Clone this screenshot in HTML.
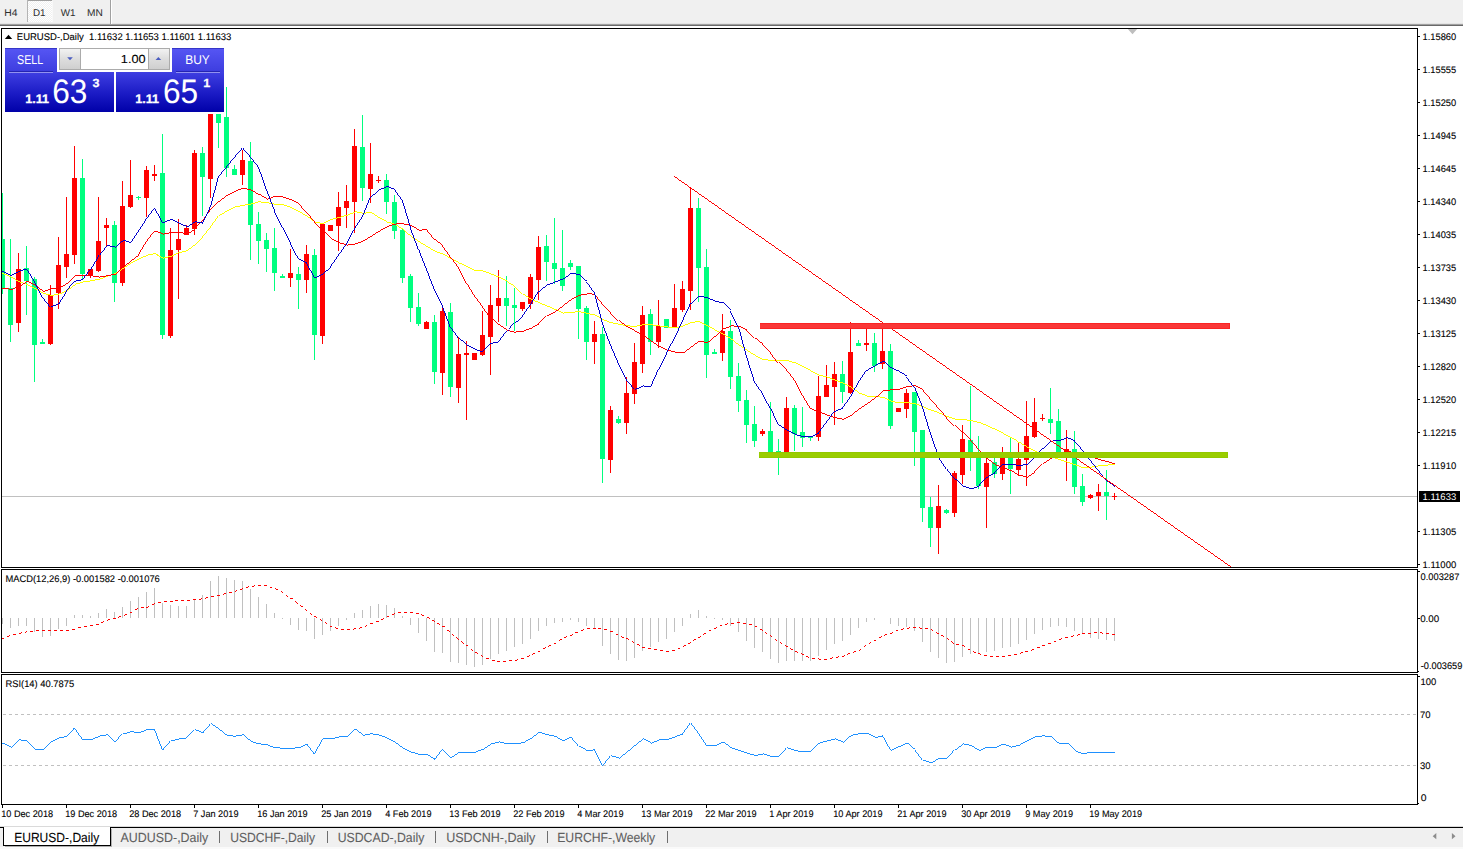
<!DOCTYPE html>
<html><head><meta charset="utf-8"><title>EURUSD-,Daily</title>
<style>
html,body{margin:0;padding:0;background:#fff}
body{width:1463px;height:849px;position:relative;overflow:hidden;font-family:"Liberation Sans",sans-serif}
svg{position:absolute;left:0;top:0}
text{font-family:"Liberation Sans",sans-serif;text-rendering:geometricPrecision}
</style></head><body>
<svg width="1463" height="849" viewBox="0 0 1463 849">
<defs>
<linearGradient id="gb" x1="0" y1="0" x2="0" y2="1"><stop offset="0" stop-color="#3F3FE2"/><stop offset="0.55" stop-color="#1A1AC4"/><stop offset="1" stop-color="#0000A8"/></linearGradient>
<linearGradient id="gs" x1="0" y1="0" x2="0" y2="1"><stop offset="0" stop-color="#5656F4"/><stop offset="1" stop-color="#3C3CDE"/></linearGradient>
<linearGradient id="gsp" x1="0" y1="0" x2="0" y2="1"><stop offset="0" stop-color="#F2F2F2"/><stop offset="0.5" stop-color="#DDDDDD"/><stop offset="1" stop-color="#CFCFCF"/></linearGradient>
<pattern id="chk" width="2" height="2" patternUnits="userSpaceOnUse"><rect width="2" height="2" fill="#F0F0F0"/><rect width="1" height="1" fill="#FFFFFF"/><rect x="1" y="1" width="1" height="1" fill="#FFFFFF"/></pattern>
<clipPath id="cm"><rect x="2" y="29" width="1415" height="538"/></clipPath>
</defs>

<g shape-rendering="crispEdges">
<rect x="0" y="0" width="1463" height="24" fill="#F0F0F0"/>
<rect x="0" y="23" width="1463" height="1" fill="#E4E4E4"/>
<rect x="0" y="24" width="1463" height="1" fill="#A0A0A0"/>
<rect x="0" y="25" width="1463" height="1" fill="#696969"/>
<rect x="0" y="26" width="1463" height="2" fill="#FFFFFF"/>
<rect x="27" y="0" width="25" height="22" fill="url(#chk)"/>
<rect x="27" y="0" width="25" height="1" fill="#A0A0A0"/>
<rect x="27" y="0" width="1" height="22" fill="#B4B4B4"/>
<rect x="52" y="1" width="1" height="21" fill="#F8F8F8"/>
<rect x="110" y="0" width="1" height="24" fill="#A0A0A0"/>
<rect x="111" y="0" width="1" height="24" fill="#FFFFFF"/>
<rect x="1" y="28" width="1417" height="1" fill="#000"/>
<rect x="1" y="567" width="1417" height="1" fill="#000"/>
<rect x="1" y="28" width="1" height="540" fill="#000"/>
<rect x="1417" y="28" width="1" height="540" fill="#000"/>
<rect x="1" y="569" width="1417" height="1" fill="#000"/>
<rect x="1" y="672" width="1417" height="1" fill="#000"/>
<rect x="1" y="569" width="1" height="104" fill="#000"/>
<rect x="1417" y="569" width="1" height="104" fill="#000"/>
<rect x="1" y="674" width="1417" height="1" fill="#000"/>
<rect x="1" y="804" width="1417" height="1" fill="#000"/>
<rect x="1" y="674" width="1" height="131" fill="#000"/>
<rect x="1417" y="674" width="1" height="131" fill="#000"/>
<rect x="1418" y="36" width="2" height="1" fill="#000"/>
<rect x="1418" y="69" width="2" height="1" fill="#000"/>
<rect x="1418" y="102" width="2" height="1" fill="#000"/>
<rect x="1418" y="135" width="2" height="1" fill="#000"/>
<rect x="1418" y="168" width="2" height="1" fill="#000"/>
<rect x="1418" y="201" width="2" height="1" fill="#000"/>
<rect x="1418" y="234" width="2" height="1" fill="#000"/>
<rect x="1418" y="267" width="2" height="1" fill="#000"/>
<rect x="1418" y="300" width="2" height="1" fill="#000"/>
<rect x="1418" y="333" width="2" height="1" fill="#000"/>
<rect x="1418" y="366" width="2" height="1" fill="#000"/>
<rect x="1418" y="399" width="2" height="1" fill="#000"/>
<rect x="1418" y="432" width="2" height="1" fill="#000"/>
<rect x="1418" y="465" width="2" height="1" fill="#000"/>
<rect x="1418" y="531" width="2" height="1" fill="#000"/>
<rect x="1418" y="564" width="2" height="1" fill="#000"/>
<rect x="1418" y="571" width="2" height="1" fill="#000"/>
<rect x="1418" y="618" width="2" height="1" fill="#000"/>
<rect x="1418" y="676" width="2" height="1" fill="#000"/>
<rect x="1418" y="671" width="1" height="1" fill="#000"/>
<rect x="1418" y="803" width="1" height="1" fill="#000"/>
<rect x="2" y="805" width="1" height="3" fill="#000"/>
<rect x="66" y="805" width="1" height="3" fill="#000"/>
<rect x="130" y="805" width="1" height="3" fill="#000"/>
<rect x="194" y="805" width="1" height="3" fill="#000"/>
<rect x="258" y="805" width="1" height="3" fill="#000"/>
<rect x="322" y="805" width="1" height="3" fill="#000"/>
<rect x="386" y="805" width="1" height="3" fill="#000"/>
<rect x="450" y="805" width="1" height="3" fill="#000"/>
<rect x="514" y="805" width="1" height="3" fill="#000"/>
<rect x="578" y="805" width="1" height="3" fill="#000"/>
<rect x="642" y="805" width="1" height="3" fill="#000"/>
<rect x="706" y="805" width="1" height="3" fill="#000"/>
<rect x="770" y="805" width="1" height="3" fill="#000"/>
<rect x="834" y="805" width="1" height="3" fill="#000"/>
<rect x="898" y="805" width="1" height="3" fill="#000"/>
<rect x="962" y="805" width="1" height="3" fill="#000"/>
<rect x="1026" y="805" width="1" height="3" fill="#000"/>
<rect x="1090" y="805" width="1" height="3" fill="#000"/>
<rect x="0" y="826" width="1463" height="1" fill="#DADADA"/>
<rect x="0" y="827" width="1463" height="20" fill="#F0F0F0"/>
<rect x="0" y="847" width="1463" height="2" fill="#FAFAFA"/>
<rect x="0" y="827" width="1463" height="1" fill="#000"/>
<rect x="4" y="827" width="107" height="18" fill="#FFFFFF"/>
<rect x="3" y="827" width="1" height="19" fill="#000"/>
<rect x="3" y="845" width="108" height="1" fill="#000"/>
<rect x="110" y="827" width="1" height="19" fill="#000"/>
<rect x="111" y="829" width="1" height="18" fill="#B0B0B0"/>
<rect x="5" y="846" width="107" height="1" fill="#B0B0B0"/>
<rect x="219" y="831" width="1" height="12" fill="#6E6E6E"/>
<rect x="327" y="831" width="1" height="12" fill="#6E6E6E"/>
<rect x="435" y="831" width="1" height="12" fill="#6E6E6E"/>
<rect x="547" y="831" width="1" height="12" fill="#6E6E6E"/>
<rect x="667" y="831" width="1" height="12" fill="#6E6E6E"/>
</g>
<polygon points="1436.3,833.1 1436.3,839.3 1432.7,836.2" fill="#8C8C8C"/>
<polygon points="1451.9,833.1 1451.9,839.3 1455.5,836.2" fill="#8C8C8C"/>
<polygon points="1127.8,29 1137.2,29 1132.5,34.2" fill="#BEBEBE"/>
<g clip-path="url(#cm)">
<g shape-rendering="crispEdges">
<rect x="2" y="496" width="1415" height="1" fill="#C0C0C0"/>
<rect x="2" y="193" width="1" height="101" fill="#00FF7F"/>
<rect x="0" y="239" width="5" height="49" fill="#00FF7F"/>
<rect x="10" y="239" width="1" height="103" fill="#00FF7F"/>
<rect x="8" y="288" width="5" height="37" fill="#00FF7F"/>
<rect x="18" y="253" width="1" height="79" fill="#FF0000"/>
<rect x="16" y="269" width="5" height="54" fill="#FF0000"/>
<rect x="26" y="246" width="1" height="69" fill="#00FF7F"/>
<rect x="24" y="268" width="5" height="13" fill="#00FF7F"/>
<rect x="34" y="277" width="1" height="105" fill="#00FF7F"/>
<rect x="32" y="279" width="5" height="66" fill="#00FF7F"/>
<rect x="50" y="285" width="1" height="60" fill="#FF0000"/>
<rect x="48" y="295" width="5" height="49" fill="#FF0000"/>
<rect x="58" y="237" width="1" height="72" fill="#FF0000"/>
<rect x="56" y="265" width="5" height="28" fill="#FF0000"/>
<rect x="66" y="197" width="1" height="81" fill="#FF0000"/>
<rect x="64" y="254" width="5" height="13" fill="#FF0000"/>
<rect x="74" y="146" width="1" height="118" fill="#FF0000"/>
<rect x="72" y="178" width="5" height="77" fill="#FF0000"/>
<rect x="82" y="159" width="1" height="120" fill="#00FF7F"/>
<rect x="80" y="178" width="5" height="96" fill="#00FF7F"/>
<rect x="90" y="269" width="1" height="9" fill="#FF0000"/>
<rect x="88" y="269" width="5" height="6" fill="#FF0000"/>
<rect x="98" y="197" width="1" height="75" fill="#FF0000"/>
<rect x="96" y="241" width="5" height="30" fill="#FF0000"/>
<rect x="106" y="218" width="1" height="28" fill="#FF0000"/>
<rect x="104" y="225" width="5" height="3" fill="#FF0000"/>
<rect x="114" y="221" width="1" height="81" fill="#00FF7F"/>
<rect x="112" y="225" width="5" height="58" fill="#00FF7F"/>
<rect x="122" y="181" width="1" height="105" fill="#FF0000"/>
<rect x="120" y="206" width="5" height="77" fill="#FF0000"/>
<rect x="130" y="160" width="1" height="48" fill="#FF0000"/>
<rect x="128" y="195" width="5" height="12" fill="#FF0000"/>
<rect x="146" y="166" width="1" height="51" fill="#FF0000"/>
<rect x="144" y="170" width="5" height="28" fill="#FF0000"/>
<rect x="162" y="134" width="1" height="205" fill="#00FF7F"/>
<rect x="160" y="173" width="5" height="162" fill="#00FF7F"/>
<rect x="170" y="228" width="1" height="110" fill="#FF0000"/>
<rect x="168" y="250" width="5" height="86" fill="#FF0000"/>
<rect x="178" y="219" width="1" height="80" fill="#FF0000"/>
<rect x="176" y="239" width="5" height="11" fill="#FF0000"/>
<rect x="186" y="225" width="1" height="10" fill="#FF0000"/>
<rect x="184" y="228" width="5" height="7" fill="#FF0000"/>
<rect x="194" y="150" width="1" height="85" fill="#FF0000"/>
<rect x="192" y="153" width="5" height="76" fill="#FF0000"/>
<rect x="202" y="147" width="1" height="69" fill="#00FF7F"/>
<rect x="200" y="153" width="5" height="24" fill="#00FF7F"/>
<rect x="210" y="114" width="1" height="84" fill="#FF0000"/>
<rect x="208" y="114" width="5" height="65" fill="#FF0000"/>
<rect x="218" y="114" width="1" height="34" fill="#00FF7F"/>
<rect x="216" y="114" width="5" height="9" fill="#00FF7F"/>
<rect x="226" y="87" width="1" height="90" fill="#00FF7F"/>
<rect x="224" y="117" width="5" height="51" fill="#00FF7F"/>
<rect x="234" y="165" width="1" height="10" fill="#00FF7F"/>
<rect x="232" y="169" width="5" height="6" fill="#00FF7F"/>
<rect x="242" y="150" width="1" height="35" fill="#FF0000"/>
<rect x="240" y="160" width="5" height="15" fill="#FF0000"/>
<rect x="250" y="142" width="1" height="118" fill="#00FF7F"/>
<rect x="248" y="161" width="5" height="64" fill="#00FF7F"/>
<rect x="258" y="212" width="1" height="52" fill="#00FF7F"/>
<rect x="256" y="224" width="5" height="17" fill="#00FF7F"/>
<rect x="266" y="233" width="1" height="39" fill="#00FF7F"/>
<rect x="264" y="240" width="5" height="9" fill="#00FF7F"/>
<rect x="274" y="228" width="1" height="63" fill="#00FF7F"/>
<rect x="272" y="248" width="5" height="25" fill="#00FF7F"/>
<rect x="290" y="249" width="1" height="38" fill="#FF0000"/>
<rect x="288" y="273" width="5" height="5" fill="#FF0000"/>
<rect x="298" y="267" width="1" height="42" fill="#00FF7F"/>
<rect x="296" y="274" width="5" height="6" fill="#00FF7F"/>
<rect x="306" y="245" width="1" height="48" fill="#FF0000"/>
<rect x="304" y="254" width="5" height="26" fill="#FF0000"/>
<rect x="314" y="249" width="1" height="111" fill="#00FF7F"/>
<rect x="312" y="255" width="5" height="80" fill="#00FF7F"/>
<rect x="322" y="224" width="1" height="120" fill="#FF0000"/>
<rect x="320" y="224" width="5" height="112" fill="#FF0000"/>
<rect x="330" y="225" width="1" height="6" fill="#FF0000"/>
<rect x="328" y="225" width="5" height="6" fill="#FF0000"/>
<rect x="338" y="192" width="1" height="59" fill="#FF0000"/>
<rect x="336" y="207" width="5" height="19" fill="#FF0000"/>
<rect x="346" y="185" width="1" height="43" fill="#FF0000"/>
<rect x="344" y="201" width="5" height="7" fill="#FF0000"/>
<rect x="354" y="129" width="1" height="104" fill="#FF0000"/>
<rect x="352" y="146" width="5" height="56" fill="#FF0000"/>
<rect x="362" y="115" width="1" height="86" fill="#00FF7F"/>
<rect x="360" y="147" width="5" height="41" fill="#00FF7F"/>
<rect x="370" y="143" width="1" height="60" fill="#FF0000"/>
<rect x="368" y="174" width="5" height="15" fill="#FF0000"/>
<rect x="386" y="174" width="1" height="40" fill="#00FF7F"/>
<rect x="384" y="180" width="5" height="22" fill="#00FF7F"/>
<rect x="394" y="195" width="1" height="44" fill="#00FF7F"/>
<rect x="392" y="202" width="5" height="29" fill="#00FF7F"/>
<rect x="402" y="229" width="1" height="54" fill="#00FF7F"/>
<rect x="400" y="230" width="5" height="48" fill="#00FF7F"/>
<rect x="410" y="274" width="1" height="48" fill="#00FF7F"/>
<rect x="408" y="276" width="5" height="32" fill="#00FF7F"/>
<rect x="418" y="293" width="1" height="33" fill="#00FF7F"/>
<rect x="416" y="307" width="5" height="17" fill="#00FF7F"/>
<rect x="426" y="321" width="1" height="8" fill="#FF0000"/>
<rect x="424" y="322" width="5" height="7" fill="#FF0000"/>
<rect x="434" y="315" width="1" height="69" fill="#00FF7F"/>
<rect x="432" y="322" width="5" height="50" fill="#00FF7F"/>
<rect x="442" y="305" width="1" height="90" fill="#FF0000"/>
<rect x="440" y="311" width="5" height="62" fill="#FF0000"/>
<rect x="450" y="303" width="1" height="94" fill="#00FF7F"/>
<rect x="448" y="312" width="5" height="75" fill="#00FF7F"/>
<rect x="458" y="337" width="1" height="66" fill="#FF0000"/>
<rect x="456" y="354" width="5" height="34" fill="#FF0000"/>
<rect x="474" y="353" width="1" height="7" fill="#FF0000"/>
<rect x="472" y="353" width="5" height="7" fill="#FF0000"/>
<rect x="482" y="311" width="1" height="45" fill="#FF0000"/>
<rect x="480" y="335" width="5" height="20" fill="#FF0000"/>
<rect x="490" y="285" width="1" height="90" fill="#FF0000"/>
<rect x="488" y="305" width="5" height="32" fill="#FF0000"/>
<rect x="498" y="270" width="1" height="52" fill="#FF0000"/>
<rect x="496" y="298" width="5" height="8" fill="#FF0000"/>
<rect x="506" y="276" width="1" height="50" fill="#00FF7F"/>
<rect x="504" y="298" width="5" height="8" fill="#00FF7F"/>
<rect x="514" y="288" width="1" height="43" fill="#00FF7F"/>
<rect x="512" y="305" width="5" height="3" fill="#00FF7F"/>
<rect x="522" y="302" width="1" height="9" fill="#FF0000"/>
<rect x="520" y="302" width="5" height="7" fill="#FF0000"/>
<rect x="530" y="274" width="1" height="35" fill="#FF0000"/>
<rect x="528" y="277" width="5" height="27" fill="#FF0000"/>
<rect x="538" y="236" width="1" height="64" fill="#FF0000"/>
<rect x="536" y="247" width="5" height="33" fill="#FF0000"/>
<rect x="546" y="235" width="1" height="46" fill="#00FF7F"/>
<rect x="544" y="246" width="5" height="16" fill="#00FF7F"/>
<rect x="554" y="218" width="1" height="66" fill="#00FF7F"/>
<rect x="552" y="263" width="5" height="6" fill="#00FF7F"/>
<rect x="562" y="230" width="1" height="61" fill="#00FF7F"/>
<rect x="560" y="268" width="5" height="18" fill="#00FF7F"/>
<rect x="570" y="260" width="1" height="10" fill="#00FF7F"/>
<rect x="568" y="263" width="5" height="4" fill="#00FF7F"/>
<rect x="578" y="266" width="1" height="73" fill="#00FF7F"/>
<rect x="576" y="266" width="5" height="43" fill="#00FF7F"/>
<rect x="586" y="306" width="1" height="54" fill="#00FF7F"/>
<rect x="584" y="308" width="5" height="34" fill="#00FF7F"/>
<rect x="594" y="321" width="1" height="43" fill="#FF0000"/>
<rect x="592" y="334" width="5" height="8" fill="#FF0000"/>
<rect x="602" y="327" width="1" height="156" fill="#00FF7F"/>
<rect x="600" y="334" width="5" height="125" fill="#00FF7F"/>
<rect x="610" y="406" width="1" height="67" fill="#FF0000"/>
<rect x="608" y="410" width="5" height="50" fill="#FF0000"/>
<rect x="618" y="416" width="1" height="8" fill="#00FF7F"/>
<rect x="616" y="419" width="5" height="4" fill="#00FF7F"/>
<rect x="626" y="377" width="1" height="57" fill="#FF0000"/>
<rect x="624" y="393" width="5" height="30" fill="#FF0000"/>
<rect x="634" y="343" width="1" height="61" fill="#FF0000"/>
<rect x="632" y="362" width="5" height="32" fill="#FF0000"/>
<rect x="642" y="306" width="1" height="67" fill="#FF0000"/>
<rect x="640" y="315" width="5" height="49" fill="#FF0000"/>
<rect x="650" y="309" width="1" height="46" fill="#00FF7F"/>
<rect x="648" y="314" width="5" height="28" fill="#00FF7F"/>
<rect x="658" y="300" width="1" height="48" fill="#FF0000"/>
<rect x="656" y="326" width="5" height="16" fill="#FF0000"/>
<rect x="666" y="319" width="1" height="9" fill="#00FF7F"/>
<rect x="664" y="319" width="5" height="9" fill="#00FF7F"/>
<rect x="674" y="284" width="1" height="43" fill="#FF0000"/>
<rect x="672" y="308" width="5" height="19" fill="#FF0000"/>
<rect x="682" y="281" width="1" height="31" fill="#FF0000"/>
<rect x="680" y="289" width="5" height="21" fill="#FF0000"/>
<rect x="690" y="188" width="1" height="122" fill="#FF0000"/>
<rect x="688" y="208" width="5" height="83" fill="#FF0000"/>
<rect x="698" y="198" width="1" height="104" fill="#00FF7F"/>
<rect x="696" y="208" width="5" height="60" fill="#00FF7F"/>
<rect x="706" y="249" width="1" height="129" fill="#00FF7F"/>
<rect x="704" y="267" width="5" height="88" fill="#00FF7F"/>
<rect x="722" y="314" width="1" height="47" fill="#FF0000"/>
<rect x="720" y="331" width="5" height="22" fill="#FF0000"/>
<rect x="730" y="320" width="1" height="69" fill="#00FF7F"/>
<rect x="728" y="331" width="5" height="46" fill="#00FF7F"/>
<rect x="738" y="363" width="1" height="49" fill="#00FF7F"/>
<rect x="736" y="376" width="5" height="25" fill="#00FF7F"/>
<rect x="746" y="390" width="1" height="53" fill="#00FF7F"/>
<rect x="744" y="400" width="5" height="25" fill="#00FF7F"/>
<rect x="754" y="406" width="1" height="41" fill="#00FF7F"/>
<rect x="752" y="424" width="5" height="17" fill="#00FF7F"/>
<rect x="762" y="429" width="1" height="7" fill="#FF0000"/>
<rect x="760" y="431" width="5" height="3" fill="#FF0000"/>
<rect x="770" y="402" width="1" height="53" fill="#00FF7F"/>
<rect x="768" y="431" width="5" height="24" fill="#00FF7F"/>
<rect x="778" y="439" width="1" height="36" fill="#00FF7F"/>
<rect x="776" y="451" width="5" height="4" fill="#00FF7F"/>
<rect x="786" y="397" width="1" height="58" fill="#FF0000"/>
<rect x="784" y="408" width="5" height="47" fill="#FF0000"/>
<rect x="794" y="405" width="1" height="46" fill="#00FF7F"/>
<rect x="792" y="408" width="5" height="26" fill="#00FF7F"/>
<rect x="802" y="407" width="1" height="40" fill="#00FF7F"/>
<rect x="800" y="432" width="5" height="6" fill="#00FF7F"/>
<rect x="810" y="436" width="1" height="5" fill="#00FF7F"/>
<rect x="808" y="436" width="5" height="2" fill="#00FF7F"/>
<rect x="818" y="376" width="1" height="65" fill="#FF0000"/>
<rect x="816" y="396" width="5" height="41" fill="#FF0000"/>
<rect x="826" y="365" width="1" height="32" fill="#FF0000"/>
<rect x="824" y="385" width="5" height="12" fill="#FF0000"/>
<rect x="834" y="362" width="1" height="63" fill="#FF0000"/>
<rect x="832" y="374" width="5" height="13" fill="#FF0000"/>
<rect x="842" y="361" width="1" height="42" fill="#00FF7F"/>
<rect x="840" y="374" width="5" height="18" fill="#00FF7F"/>
<rect x="850" y="322" width="1" height="72" fill="#FF0000"/>
<rect x="848" y="352" width="5" height="41" fill="#FF0000"/>
<rect x="858" y="340" width="1" height="6" fill="#00FF7F"/>
<rect x="856" y="343" width="5" height="3" fill="#00FF7F"/>
<rect x="874" y="333" width="1" height="39" fill="#00FF7F"/>
<rect x="872" y="343" width="5" height="23" fill="#00FF7F"/>
<rect x="882" y="322" width="1" height="47" fill="#FF0000"/>
<rect x="880" y="351" width="5" height="13" fill="#FF0000"/>
<rect x="890" y="344" width="1" height="85" fill="#00FF7F"/>
<rect x="888" y="351" width="5" height="75" fill="#00FF7F"/>
<rect x="898" y="408" width="1" height="4" fill="#FF0000"/>
<rect x="896" y="408" width="5" height="4" fill="#FF0000"/>
<rect x="906" y="389" width="1" height="29" fill="#FF0000"/>
<rect x="904" y="393" width="5" height="16" fill="#FF0000"/>
<rect x="914" y="392" width="1" height="74" fill="#00FF7F"/>
<rect x="912" y="392" width="5" height="40" fill="#00FF7F"/>
<rect x="922" y="430" width="1" height="92" fill="#00FF7F"/>
<rect x="920" y="430" width="5" height="78" fill="#00FF7F"/>
<rect x="930" y="497" width="1" height="50" fill="#00FF7F"/>
<rect x="928" y="507" width="5" height="21" fill="#00FF7F"/>
<rect x="938" y="485" width="1" height="69" fill="#FF0000"/>
<rect x="936" y="506" width="5" height="22" fill="#FF0000"/>
<rect x="946" y="509" width="1" height="5" fill="#00FF7F"/>
<rect x="944" y="510" width="5" height="3" fill="#00FF7F"/>
<rect x="954" y="471" width="1" height="46" fill="#FF0000"/>
<rect x="952" y="473" width="5" height="40" fill="#FF0000"/>
<rect x="962" y="425" width="1" height="59" fill="#FF0000"/>
<rect x="960" y="439" width="5" height="36" fill="#FF0000"/>
<rect x="970" y="386" width="1" height="85" fill="#00FF7F"/>
<rect x="968" y="440" width="5" height="16" fill="#00FF7F"/>
<rect x="978" y="436" width="1" height="53" fill="#00FF7F"/>
<rect x="976" y="452" width="5" height="34" fill="#00FF7F"/>
<rect x="986" y="458" width="1" height="70" fill="#FF0000"/>
<rect x="984" y="463" width="5" height="24" fill="#FF0000"/>
<rect x="994" y="458" width="1" height="20" fill="#00FF7F"/>
<rect x="992" y="462" width="5" height="12" fill="#00FF7F"/>
<rect x="1002" y="447" width="1" height="33" fill="#FF0000"/>
<rect x="1000" y="458" width="5" height="16" fill="#FF0000"/>
<rect x="1010" y="438" width="1" height="56" fill="#00FF7F"/>
<rect x="1008" y="453" width="5" height="16" fill="#00FF7F"/>
<rect x="1018" y="443" width="1" height="32" fill="#FF0000"/>
<rect x="1016" y="459" width="5" height="11" fill="#FF0000"/>
<rect x="1026" y="401" width="1" height="85" fill="#FF0000"/>
<rect x="1024" y="436" width="5" height="24" fill="#FF0000"/>
<rect x="1034" y="398" width="1" height="40" fill="#FF0000"/>
<rect x="1032" y="422" width="5" height="15" fill="#FF0000"/>
<rect x="1050" y="388" width="1" height="46" fill="#00FF7F"/>
<rect x="1048" y="419" width="5" height="4" fill="#00FF7F"/>
<rect x="1058" y="409" width="1" height="44" fill="#00FF7F"/>
<rect x="1056" y="421" width="5" height="32" fill="#00FF7F"/>
<rect x="1066" y="430" width="1" height="51" fill="#FF0000"/>
<rect x="1064" y="449" width="5" height="6" fill="#FF0000"/>
<rect x="1074" y="431" width="1" height="63" fill="#00FF7F"/>
<rect x="1072" y="449" width="5" height="38" fill="#00FF7F"/>
<rect x="1082" y="474" width="1" height="32" fill="#00FF7F"/>
<rect x="1080" y="486" width="5" height="16" fill="#00FF7F"/>
<rect x="1090" y="494" width="1" height="5" fill="#FF0000"/>
<rect x="1088" y="495" width="5" height="3" fill="#FF0000"/>
<rect x="1098" y="484" width="1" height="27" fill="#FF0000"/>
<rect x="1096" y="492" width="5" height="4" fill="#FF0000"/>
<rect x="1106" y="470" width="1" height="50" fill="#00FF7F"/>
<rect x="1104" y="492" width="5" height="4" fill="#00FF7F"/>
<rect x="42" y="339" width="1" height="5" fill="#00FF7F"/>
<rect x="40" y="342" width="5" height="2" fill="#00FF7F"/>
<rect x="138" y="196" width="1" height="4" fill="#00FF7F"/>
<rect x="136" y="197" width="5" height="1" fill="#00FF7F"/>
<rect x="154" y="165" width="1" height="16" fill="#FF0000"/>
<rect x="152" y="174" width="5" height="2" fill="#FF0000"/>
<rect x="282" y="274" width="1" height="4" fill="#00FF7F"/>
<rect x="280" y="276" width="5" height="2" fill="#00FF7F"/>
<rect x="378" y="176" width="1" height="7" fill="#FF0000"/>
<rect x="376" y="180" width="5" height="1" fill="#FF0000"/>
<rect x="466" y="341" width="1" height="79" fill="#FF0000"/>
<rect x="464" y="353" width="5" height="2" fill="#FF0000"/>
<rect x="714" y="349" width="1" height="5" fill="#00FF7F"/>
<rect x="712" y="352" width="5" height="2" fill="#00FF7F"/>
<rect x="866" y="324" width="1" height="27" fill="#FF0000"/>
<rect x="864" y="343" width="5" height="2" fill="#FF0000"/>
<rect x="1042" y="414" width="1" height="7" fill="#FF0000"/>
<rect x="1040" y="418" width="5" height="1" fill="#FF0000"/>
<rect x="1114" y="493" width="1" height="7" fill="#FF0000"/>
<rect x="1112" y="496" width="5" height="1" fill="#FF0000"/>
</g>
<polyline points="1.6,273.6 2.5,273.6 10.5,277.1 18.5,281.8 26.5,284.7 34.5,288.8 42.5,293.1 50.5,295.6 58.5,293.9 66.5,290.4 74.5,284.3 82.5,281.8 90.5,280.8 98.5,279.2 106.5,276.1 114.5,273.6 122.5,268.3 130.5,262.8 138.5,258.7 146.5,255.2 154.5,253.5 162.5,258.0 170.5,256.0 178.5,252.5 186.5,250.5 194.5,244.3 202.5,237.1 210.5,226.9 218.5,215.6 226.5,210.5 234.5,206.8 242.5,205.3 250.5,203.9 258.5,201.9 266.5,202.7 274.5,204.3 282.5,204.9 290.5,207.7 298.5,211.8 306.5,216.3 314.5,222.4 322.5,223.4 330.5,219.3 338.5,217.3 346.5,215.2 354.5,211.7 362.5,213.2 370.5,212.6 378.5,217.9 386.5,222.0 394.5,224.5 402.5,229.6 410.5,236.8 418.5,241.9 426.5,246.6 434.5,251.5 442.5,254.2 450.5,258.9 458.5,263.0 466.5,266.5 474.5,270.6 482.5,271.0 490.5,274.1 498.5,277.4 506.5,281.5 514.5,286.0 522.5,294.2 530.5,299.3 538.5,302.8 546.5,306.1 554.5,309.5 562.5,313.0 570.5,312.2 578.5,311.8 586.5,313.3 594.5,315.2 602.5,319.7 610.5,322.8 618.5,324.2 626.5,325.9 634.5,326.3 642.5,324.8 650.5,324.8 658.5,325.9 666.5,326.9 674.5,327.9 682.5,325.9 690.5,322.2 698.5,321.8 706.5,325.9 714.5,330.0 722.5,334.1 730.5,339.2 738.5,345.3 746.5,350.5 754.5,355.6 762.5,359.7 770.5,360.3 778.5,360.7 786.5,360.7 794.5,362.8 802.5,366.9 810.5,371.0 818.5,375.1 826.5,377.1 834.5,380.2 842.5,383.3 850.5,387.4 858.5,393.1 866.5,396.0 874.5,396.6 882.5,397.4 890.5,401.5 898.5,402.8 906.5,402.8 914.5,403.6 922.5,406.9 930.5,410.3 938.5,413.0 946.5,416.5 954.5,419.2 962.5,419.6 970.5,420.6 978.5,422.6 986.5,425.7 994.5,429.4 1002.5,433.5 1010.5,437.6 1018.5,442.1 1026.5,447.2 1034.5,451.3 1042.5,454.5 1050.5,457.0 1058.5,459.5 1066.5,462.0 1074.5,464.7 1082.5,467.8 1090.5,467.1 1098.5,465.7 1106.5,465.1 1114.5,464.3" fill="none" stroke="#FFFF00" stroke-width="0.999" shape-rendering="crispEdges" />
<polyline points="1.6,288.0 2.5,288.0 10.5,289.4 18.5,286.3 26.5,281.2 34.5,285.3 42.5,291.5 50.5,288.8 58.5,288.0 66.5,283.3 74.5,275.7 82.5,275.1 90.5,275.7 98.5,277.1 106.5,275.7 114.5,274.0 122.5,266.9 130.5,260.7 138.5,254.6 146.5,241.2 154.5,231.0 162.5,234.0 170.5,232.6 178.5,232.0 186.5,234.0 194.5,228.9 202.5,220.7 210.5,209.4 218.5,201.2 226.5,195.1 234.5,191.0 242.5,188.3 250.5,190.0 258.5,194.1 266.5,199.2 274.5,196.1 282.5,197.1 290.5,199.7 298.5,203.9 306.5,212.2 314.5,222.0 322.5,231.0 330.5,238.8 338.5,242.9 346.5,245.0 354.5,243.9 362.5,240.9 370.5,236.1 378.5,231.0 386.5,226.5 394.5,224.0 402.5,223.8 410.5,225.5 418.5,230.2 426.5,229.6 434.5,239.8 442.5,246.0 450.5,257.3 458.5,267.5 466.5,282.9 474.5,296.2 482.5,306.5 490.5,316.7 498.5,324.9 506.5,330.1 514.5,332.1 522.5,331.1 530.5,328.0 538.5,323.9 546.5,315.7 554.5,311.6 562.5,305.5 570.5,299.3 578.5,295.2 586.5,293.9 594.5,294.1 602.5,304.3 610.5,312.5 618.5,320.7 626.5,326.9 634.5,331.0 642.5,335.1 650.5,341.2 658.5,346.4 666.5,350.1 674.5,352.1 682.5,352.9 690.5,346.8 698.5,341.2 706.5,342.7 714.5,336.1 722.5,328.9 730.5,325.9 738.5,326.3 746.5,330.0 754.5,338.2 762.5,344.3 770.5,352.5 778.5,362.8 786.5,369.9 794.5,380.2 802.5,395.6 810.5,408.9 818.5,412.0 826.5,415.1 834.5,417.7 842.5,419.2 850.5,415.1 858.5,408.9 866.5,403.5 874.5,397.8 882.5,390.9 890.5,389.8 898.5,389.2 906.5,386.4 914.5,385.7 922.5,389.8 930.5,399.1 938.5,408.3 946.5,417.5 954.5,425.7 962.5,432.9 970.5,440.1 978.5,449.3 986.5,458.5 994.5,464.7 1002.5,467.8 1010.5,470.8 1018.5,475.3 1026.5,477.0 1034.5,471.9 1042.5,463.7 1050.5,458.1 1058.5,453.0 1066.5,451.5 1074.5,452.5 1082.5,454.5 1090.5,457.0 1098.5,459.5 1106.5,461.5 1114.5,464.3" fill="none" stroke="#FF0000" stroke-width="0.999" shape-rendering="crispEdges" />
<polyline points="1.6,271.6 2.5,271.6 10.5,275.5 18.5,271.0 26.5,268.9 34.5,281.5 42.5,296.5 50.5,306.5 58.5,303.5 66.5,290.5 74.5,281.0 82.5,279.5 90.5,269.0 98.5,255.5 106.5,245.5 114.5,247.0 122.5,240.2 130.5,242.9 138.5,231.0 146.5,218.7 154.5,208.0 162.5,222.8 170.5,219.1 178.5,223.2 186.5,226.9 194.5,221.7 202.5,223.2 210.5,206.4 218.5,176.6 226.5,167.0 234.5,157.2 242.5,147.9 250.5,157.2 258.5,167.4 266.5,190.0 274.5,210.5 282.5,226.9 290.5,242.5 298.5,259.0 306.5,263.4 314.5,277.8 322.5,273.7 330.5,266.5 338.5,255.2 346.5,243.9 354.5,228.6 362.5,216.3 370.5,196.8 378.5,189.6 386.5,186.5 394.5,189.6 402.5,200.9 410.5,227.5 418.5,249.1 426.5,269.6 434.5,290.1 442.5,305.5 450.5,327.0 458.5,338.3 466.5,345.4 474.5,349.5 482.5,352.0 490.5,343.4 498.5,341.7 506.5,331.1 514.5,322.9 522.5,315.7 530.5,304.4 538.5,291.1 546.5,284.9 554.5,281.9 562.5,278.8 570.5,273.3 578.5,274.7 586.5,281.9 594.5,293.1 602.5,323.8 610.5,345.3 618.5,363.8 626.5,380.2 634.5,389.4 642.5,385.9 650.5,387.0 658.5,368.9 666.5,352.5 674.5,338.2 682.5,320.7 690.5,303.3 698.5,296.1 706.5,297.8 714.5,301.3 722.5,302.9 730.5,310.5 738.5,326.9 746.5,356.6 754.5,382.2 762.5,393.5 770.5,407.9 778.5,425.3 786.5,430.4 794.5,434.5 802.5,436.6 810.5,436.6 818.5,432.5 826.5,422.2 834.5,411.0 842.5,407.9 850.5,396.6 858.5,382.2 866.5,370.1 874.5,365.5 882.5,361.1 890.5,367.9 898.5,371.4 906.5,376.5 914.5,386.8 922.5,407.3 930.5,433.9 938.5,456.5 946.5,468.8 954.5,479.0 962.5,486.2 970.5,488.9 978.5,486.2 986.5,477.0 994.5,472.5 1002.5,464.3 1010.5,464.3 1018.5,465.7 1026.5,464.3 1034.5,456.5 1042.5,448.3 1050.5,441.1 1058.5,440.7 1066.5,437.6 1074.5,441.1 1082.5,450.3 1090.5,460.6 1098.5,470.8 1106.5,481.1 1114.5,486.8" fill="none" stroke="#0000CD" stroke-width="0.999" shape-rendering="crispEdges" />
<line x1="673.6" y1="175.9" x2="1232.5" y2="568" stroke="#FF0000" stroke-width="0.999" shape-rendering="crispEdges"/>
<rect x="760" y="323" width="470" height="6" fill="#FA2424" shape-rendering="crispEdges"/>
<rect x="760" y="324" width="469" height="4" fill="#FA3737" shape-rendering="crispEdges"/>
<rect x="759" y="452" width="469" height="6" fill="#92C800" shape-rendering="crispEdges"/>
<rect x="759" y="453" width="468" height="4" fill="#9ACD00" shape-rendering="crispEdges"/>
</g>
<g shape-rendering="crispEdges">
<rect x="2" y="618" width="1" height="6" fill="#C0C0C0"/>
<rect x="10" y="618" width="1" height="10" fill="#C0C0C0"/>
<rect x="18" y="618" width="1" height="8" fill="#C0C0C0"/>
<rect x="26" y="618" width="1" height="8" fill="#C0C0C0"/>
<rect x="34" y="618" width="1" height="14" fill="#C0C0C0"/>
<rect x="42" y="618" width="1" height="19" fill="#C0C0C0"/>
<rect x="50" y="618" width="1" height="18" fill="#C0C0C0"/>
<rect x="58" y="618" width="1" height="11" fill="#C0C0C0"/>
<rect x="66" y="618" width="1" height="8" fill="#C0C0C0"/>
<rect x="74" y="615" width="1" height="3" fill="#C0C0C0"/>
<rect x="82" y="615" width="1" height="3" fill="#C0C0C0"/>
<rect x="90" y="616" width="1" height="2" fill="#C0C0C0"/>
<rect x="98" y="613" width="1" height="5" fill="#C0C0C0"/>
<rect x="106" y="609" width="1" height="9" fill="#C0C0C0"/>
<rect x="114" y="612" width="1" height="6" fill="#C0C0C0"/>
<rect x="122" y="607" width="1" height="11" fill="#C0C0C0"/>
<rect x="130" y="601" width="1" height="17" fill="#C0C0C0"/>
<rect x="138" y="597" width="1" height="21" fill="#C0C0C0"/>
<rect x="146" y="592" width="1" height="26" fill="#C0C0C0"/>
<rect x="154" y="588" width="1" height="30" fill="#C0C0C0"/>
<rect x="162" y="603" width="1" height="15" fill="#C0C0C0"/>
<rect x="170" y="605" width="1" height="13" fill="#C0C0C0"/>
<rect x="178" y="606" width="1" height="12" fill="#C0C0C0"/>
<rect x="186" y="606" width="1" height="12" fill="#C0C0C0"/>
<rect x="194" y="599" width="1" height="19" fill="#C0C0C0"/>
<rect x="202" y="595" width="1" height="23" fill="#C0C0C0"/>
<rect x="210" y="581" width="1" height="37" fill="#C0C0C0"/>
<rect x="218" y="576" width="1" height="42" fill="#C0C0C0"/>
<rect x="226" y="578" width="1" height="40" fill="#C0C0C0"/>
<rect x="234" y="580" width="1" height="38" fill="#C0C0C0"/>
<rect x="242" y="581" width="1" height="37" fill="#C0C0C0"/>
<rect x="250" y="589" width="1" height="29" fill="#C0C0C0"/>
<rect x="258" y="597" width="1" height="21" fill="#C0C0C0"/>
<rect x="266" y="604" width="1" height="14" fill="#C0C0C0"/>
<rect x="274" y="613" width="1" height="5" fill="#C0C0C0"/>
<rect x="282" y="618" width="1" height="1" fill="#C0C0C0"/>
<rect x="290" y="618" width="1" height="7" fill="#C0C0C0"/>
<rect x="298" y="618" width="1" height="12" fill="#C0C0C0"/>
<rect x="306" y="618" width="1" height="13" fill="#C0C0C0"/>
<rect x="314" y="618" width="1" height="21" fill="#C0C0C0"/>
<rect x="322" y="618" width="1" height="17" fill="#C0C0C0"/>
<rect x="330" y="618" width="1" height="13" fill="#C0C0C0"/>
<rect x="338" y="618" width="1" height="8" fill="#C0C0C0"/>
<rect x="346" y="618" width="1" height="2" fill="#C0C0C0"/>
<rect x="354" y="613" width="1" height="5" fill="#C0C0C0"/>
<rect x="362" y="610" width="1" height="8" fill="#C0C0C0"/>
<rect x="370" y="606" width="1" height="12" fill="#C0C0C0"/>
<rect x="378" y="604" width="1" height="14" fill="#C0C0C0"/>
<rect x="386" y="605" width="1" height="13" fill="#C0C0C0"/>
<rect x="394" y="608" width="1" height="10" fill="#C0C0C0"/>
<rect x="402" y="616" width="1" height="2" fill="#C0C0C0"/>
<rect x="410" y="618" width="1" height="7" fill="#C0C0C0"/>
<rect x="418" y="618" width="1" height="15" fill="#C0C0C0"/>
<rect x="426" y="618" width="1" height="23" fill="#C0C0C0"/>
<rect x="434" y="618" width="1" height="34" fill="#C0C0C0"/>
<rect x="442" y="618" width="1" height="35" fill="#C0C0C0"/>
<rect x="450" y="618" width="1" height="44" fill="#C0C0C0"/>
<rect x="458" y="618" width="1" height="45" fill="#C0C0C0"/>
<rect x="466" y="618" width="1" height="47" fill="#C0C0C0"/>
<rect x="474" y="618" width="1" height="49" fill="#C0C0C0"/>
<rect x="482" y="618" width="1" height="47" fill="#C0C0C0"/>
<rect x="490" y="618" width="1" height="41" fill="#C0C0C0"/>
<rect x="498" y="618" width="1" height="36" fill="#C0C0C0"/>
<rect x="506" y="618" width="1" height="33" fill="#C0C0C0"/>
<rect x="514" y="618" width="1" height="29" fill="#C0C0C0"/>
<rect x="522" y="618" width="1" height="26" fill="#C0C0C0"/>
<rect x="530" y="618" width="1" height="21" fill="#C0C0C0"/>
<rect x="538" y="618" width="1" height="13" fill="#C0C0C0"/>
<rect x="546" y="618" width="1" height="8" fill="#C0C0C0"/>
<rect x="554" y="618" width="1" height="5" fill="#C0C0C0"/>
<rect x="562" y="618" width="1" height="4" fill="#C0C0C0"/>
<rect x="570" y="618" width="1" height="2" fill="#C0C0C0"/>
<rect x="578" y="618" width="1" height="4" fill="#C0C0C0"/>
<rect x="586" y="618" width="1" height="8" fill="#C0C0C0"/>
<rect x="594" y="618" width="1" height="10" fill="#C0C0C0"/>
<rect x="602" y="618" width="1" height="28" fill="#C0C0C0"/>
<rect x="610" y="618" width="1" height="36" fill="#C0C0C0"/>
<rect x="618" y="618" width="1" height="42" fill="#C0C0C0"/>
<rect x="626" y="618" width="1" height="43" fill="#C0C0C0"/>
<rect x="634" y="618" width="1" height="40" fill="#C0C0C0"/>
<rect x="642" y="618" width="1" height="33" fill="#C0C0C0"/>
<rect x="650" y="618" width="1" height="29" fill="#C0C0C0"/>
<rect x="658" y="618" width="1" height="24" fill="#C0C0C0"/>
<rect x="666" y="618" width="1" height="21" fill="#C0C0C0"/>
<rect x="674" y="618" width="1" height="14" fill="#C0C0C0"/>
<rect x="682" y="618" width="1" height="8" fill="#C0C0C0"/>
<rect x="690" y="614" width="1" height="4" fill="#C0C0C0"/>
<rect x="698" y="610" width="1" height="8" fill="#C0C0C0"/>
<rect x="706" y="616" width="1" height="2" fill="#C0C0C0"/>
<rect x="714" y="618" width="1" height="1" fill="#C0C0C0"/>
<rect x="722" y="618" width="1" height="2" fill="#C0C0C0"/>
<rect x="730" y="618" width="1" height="8" fill="#C0C0C0"/>
<rect x="738" y="618" width="1" height="14" fill="#C0C0C0"/>
<rect x="746" y="618" width="1" height="23" fill="#C0C0C0"/>
<rect x="754" y="618" width="1" height="30" fill="#C0C0C0"/>
<rect x="762" y="618" width="1" height="34" fill="#C0C0C0"/>
<rect x="770" y="618" width="1" height="41" fill="#C0C0C0"/>
<rect x="778" y="618" width="1" height="45" fill="#C0C0C0"/>
<rect x="786" y="618" width="1" height="43" fill="#C0C0C0"/>
<rect x="794" y="618" width="1" height="43" fill="#C0C0C0"/>
<rect x="802" y="618" width="1" height="43" fill="#C0C0C0"/>
<rect x="810" y="618" width="1" height="43" fill="#C0C0C0"/>
<rect x="818" y="618" width="1" height="38" fill="#C0C0C0"/>
<rect x="826" y="618" width="1" height="32" fill="#C0C0C0"/>
<rect x="834" y="618" width="1" height="26" fill="#C0C0C0"/>
<rect x="842" y="618" width="1" height="23" fill="#C0C0C0"/>
<rect x="850" y="618" width="1" height="17" fill="#C0C0C0"/>
<rect x="858" y="618" width="1" height="10" fill="#C0C0C0"/>
<rect x="866" y="618" width="1" height="4" fill="#C0C0C0"/>
<rect x="874" y="618" width="1" height="2" fill="#C0C0C0"/>
<rect x="890" y="618" width="1" height="6" fill="#C0C0C0"/>
<rect x="898" y="618" width="1" height="8" fill="#C0C0C0"/>
<rect x="906" y="618" width="1" height="9" fill="#C0C0C0"/>
<rect x="914" y="618" width="1" height="13" fill="#C0C0C0"/>
<rect x="922" y="618" width="1" height="24" fill="#C0C0C0"/>
<rect x="930" y="618" width="1" height="34" fill="#C0C0C0"/>
<rect x="938" y="618" width="1" height="40" fill="#C0C0C0"/>
<rect x="946" y="618" width="1" height="45" fill="#C0C0C0"/>
<rect x="954" y="618" width="1" height="44" fill="#C0C0C0"/>
<rect x="962" y="618" width="1" height="39" fill="#C0C0C0"/>
<rect x="970" y="618" width="1" height="36" fill="#C0C0C0"/>
<rect x="978" y="618" width="1" height="36" fill="#C0C0C0"/>
<rect x="986" y="618" width="1" height="34" fill="#C0C0C0"/>
<rect x="994" y="618" width="1" height="33" fill="#C0C0C0"/>
<rect x="1002" y="618" width="1" height="30" fill="#C0C0C0"/>
<rect x="1010" y="618" width="1" height="29" fill="#C0C0C0"/>
<rect x="1018" y="618" width="1" height="26" fill="#C0C0C0"/>
<rect x="1026" y="618" width="1" height="22" fill="#C0C0C0"/>
<rect x="1034" y="618" width="1" height="16" fill="#C0C0C0"/>
<rect x="1042" y="618" width="1" height="12" fill="#C0C0C0"/>
<rect x="1050" y="618" width="1" height="9" fill="#C0C0C0"/>
<rect x="1058" y="618" width="1" height="8" fill="#C0C0C0"/>
<rect x="1066" y="618" width="1" height="9" fill="#C0C0C0"/>
<rect x="1074" y="618" width="1" height="13" fill="#C0C0C0"/>
<rect x="1082" y="618" width="1" height="15" fill="#C0C0C0"/>
<rect x="1090" y="618" width="1" height="20" fill="#C0C0C0"/>
<rect x="1098" y="618" width="1" height="21" fill="#C0C0C0"/>
<rect x="1106" y="618" width="1" height="22" fill="#C0C0C0"/>
<rect x="1114" y="618" width="1" height="23" fill="#C0C0C0"/>
</g>
<polyline points="1.6,638.8 2.5,638.8 10.5,635.2 18.5,633.5 26.5,631.9 34.5,631.1 42.5,630.7 50.5,630.3 58.5,630.5 66.5,630.6 74.5,629.0 82.5,627.0 90.5,625.5 98.5,624.3 106.5,620.5 114.5,618.0 122.5,616.1 130.5,612.5 138.5,608.4 146.5,607.1 154.5,603.8 162.5,601.6 170.5,601.2 178.5,600.8 186.5,600.5 194.5,599.5 202.5,598.9 210.5,597.0 218.5,595.0 226.5,593.5 234.5,591.5 242.5,588.7 250.5,586.3 258.5,585.7 266.5,586.0 274.5,588.5 282.5,592.3 290.5,598.3 298.5,603.8 306.5,610.1 314.5,616.6 322.5,621.0 330.5,626.2 338.5,628.9 346.5,630.0 354.5,628.9 362.5,627.6 370.5,623.7 378.5,621.0 386.5,617.1 394.5,613.9 402.5,612.0 410.5,612.0 418.5,613.9 426.5,616.6 434.5,621.5 442.5,626.2 450.5,632.5 458.5,639.3 466.5,645.3 474.5,651.6 482.5,656.3 490.5,659.8 498.5,661.2 506.5,661.2 514.5,660.6 522.5,658.5 530.5,655.2 538.5,651.6 546.5,647.0 554.5,643.4 562.5,638.8 570.5,635.2 578.5,631.7 586.5,628.9 594.5,628.1 602.5,628.9 610.5,631.1 618.5,635.2 626.5,638.8 634.5,642.9 642.5,647.0 650.5,648.9 658.5,650.3 666.5,651.6 674.5,650.8 682.5,647.0 690.5,642.6 698.5,637.1 706.5,632.5 714.5,628.4 722.5,625.1 730.5,623.2 738.5,622.9 746.5,623.5 754.5,625.6 762.5,630.2 770.5,636.0 778.5,641.5 786.5,646.2 794.5,650.8 802.5,654.4 810.5,657.9 818.5,659.0 826.5,659.0 834.5,657.6 842.5,656.3 850.5,653.0 858.5,650.8 866.5,644.8 874.5,640.7 882.5,636.0 890.5,633.0 898.5,630.0 906.5,628.4 914.5,627.0 922.5,628.4 930.5,628.9 938.5,633.9 946.5,638.0 954.5,644.2 962.5,645.6 970.5,650.3 978.5,653.8 986.5,655.7 994.5,656.8 1002.5,656.8 1010.5,655.7 1018.5,653.5 1026.5,651.6 1034.5,649.4 1042.5,645.6 1050.5,643.4 1058.5,640.1 1066.5,637.1 1074.5,635.8 1082.5,633.9 1090.5,633.0 1098.5,632.8 1106.5,633.3 1114.5,634.9" fill="none" stroke="#FF0000" stroke-width="0.999" shape-rendering="crispEdges" stroke-dasharray="3 3"/>
<line x1="3" y1="714.5" x2="1417" y2="714.5" stroke="#C0C0C0" stroke-width="1" stroke-dasharray="3 3" shape-rendering="crispEdges"/>
<line x1="3" y1="765.5" x2="1417" y2="765.5" stroke="#C0C0C0" stroke-width="1" stroke-dasharray="3 3" shape-rendering="crispEdges"/>
<polyline points="1.6,743.0 2.5,743.0 10.5,747.1 18.5,739.7 26.5,741.0 34.5,749.0 42.5,749.0 50.5,741.6 58.5,737.5 66.5,736.7 74.5,727.9 82.5,739.7 90.5,739.9 98.5,736.1 106.5,734.8 114.5,742.1 122.5,733.9 130.5,731.7 138.5,732.8 146.5,729.6 154.5,729.6 162.5,750.1 170.5,740.8 178.5,738.9 186.5,737.8 194.5,729.6 202.5,733.1 210.5,723.8 218.5,729.3 226.5,735.8 234.5,736.1 242.5,734.8 250.5,741.6 258.5,743.8 266.5,744.9 274.5,747.9 282.5,748.1 290.5,748.1 298.5,747.9 306.5,743.8 314.5,754.2 322.5,738.9 330.5,738.9 338.5,736.9 346.5,736.1 354.5,729.0 362.5,735.3 370.5,733.7 378.5,735.0 386.5,738.0 394.5,742.4 402.5,748.4 410.5,752.0 418.5,754.4 426.5,754.7 434.5,759.6 442.5,749.0 450.5,757.7 458.5,752.0 466.5,752.0 474.5,752.0 482.5,749.0 490.5,743.8 498.5,741.9 506.5,743.8 514.5,743.8 522.5,742.7 530.5,738.0 538.5,732.0 546.5,734.8 554.5,736.4 562.5,740.8 570.5,736.7 578.5,746.2 586.5,750.6 594.5,749.8 602.5,765.9 610.5,755.8 618.5,758.0 626.5,751.7 634.5,745.1 642.5,738.9 650.5,743.0 658.5,739.9 666.5,739.7 674.5,736.7 682.5,733.9 690.5,722.7 698.5,733.4 706.5,745.7 714.5,745.7 722.5,742.1 730.5,747.9 738.5,750.6 746.5,753.3 754.5,755.5 762.5,753.9 770.5,756.6 778.5,756.6 786.5,747.9 794.5,750.6 802.5,751.7 810.5,751.7 818.5,743.0 826.5,740.8 834.5,738.9 842.5,742.1 850.5,735.3 858.5,733.7 866.5,733.1 874.5,737.5 882.5,735.6 890.5,750.1 898.5,746.5 906.5,743.0 914.5,749.8 922.5,760.2 930.5,762.9 938.5,758.0 946.5,758.8 954.5,749.8 962.5,743.8 970.5,745.7 978.5,750.6 986.5,747.1 994.5,747.9 1002.5,744.0 1010.5,747.1 1018.5,745.1 1026.5,740.5 1034.5,736.9 1042.5,735.8 1050.5,736.9 1058.5,743.8 1066.5,743.0 1074.5,750.9 1082.5,753.9 1090.5,752.0 1098.5,752.0 1106.5,752.0 1114.5,752.0" fill="none" stroke="#1E90FF" stroke-width="0.999" shape-rendering="crispEdges" />
<text x="4.2" y="15.8" font-size="9.8" fill="#2E2E2E" font-weight="normal" text-anchor="start" textLength="13.2" lengthAdjust="spacingAndGlyphs" xml:space="preserve">H4</text>
<text x="33.0" y="15.8" font-size="9.8" fill="#2E2E2E" font-weight="normal" text-anchor="start" textLength="12.6" lengthAdjust="spacingAndGlyphs" xml:space="preserve">D1</text>
<text x="60.8" y="15.8" font-size="9.8" fill="#2E2E2E" font-weight="normal" text-anchor="start" textLength="14.8" lengthAdjust="spacingAndGlyphs" xml:space="preserve">W1</text>
<text x="87.0" y="15.8" font-size="9.8" fill="#2E2E2E" font-weight="normal" text-anchor="start" textLength="15.8" lengthAdjust="spacingAndGlyphs" xml:space="preserve">MN</text>
<polygon points="4.8,38.9 12.2,38.9 8.5,34.7" fill="#000"/>
<text x="16.8" y="40" font-size="9.7" fill="#000" stroke="#000" stroke-width="0.1" font-weight="normal" text-anchor="start" textLength="214.6" lengthAdjust="spacingAndGlyphs" xml:space="preserve">EURUSD-,Daily &#160;1.11632 1.11653 1.11601 1.11633</text>
<text x="1422.6" y="39.8" font-size="9.5" fill="#000" stroke="#000" stroke-width="0.1" font-weight="normal" text-anchor="start" textLength="33.6" lengthAdjust="spacingAndGlyphs" xml:space="preserve">1.15860</text>
<text x="1422.6" y="72.8" font-size="9.5" fill="#000" stroke="#000" stroke-width="0.1" font-weight="normal" text-anchor="start" textLength="33.6" lengthAdjust="spacingAndGlyphs" xml:space="preserve">1.15555</text>
<text x="1422.6" y="105.8" font-size="9.5" fill="#000" stroke="#000" stroke-width="0.1" font-weight="normal" text-anchor="start" textLength="33.6" lengthAdjust="spacingAndGlyphs" xml:space="preserve">1.15250</text>
<text x="1422.6" y="138.8" font-size="9.5" fill="#000" stroke="#000" stroke-width="0.1" font-weight="normal" text-anchor="start" textLength="33.6" lengthAdjust="spacingAndGlyphs" xml:space="preserve">1.14945</text>
<text x="1422.6" y="171.8" font-size="9.5" fill="#000" stroke="#000" stroke-width="0.1" font-weight="normal" text-anchor="start" textLength="33.6" lengthAdjust="spacingAndGlyphs" xml:space="preserve">1.14645</text>
<text x="1422.6" y="204.8" font-size="9.5" fill="#000" stroke="#000" stroke-width="0.1" font-weight="normal" text-anchor="start" textLength="33.6" lengthAdjust="spacingAndGlyphs" xml:space="preserve">1.14340</text>
<text x="1422.6" y="237.8" font-size="9.5" fill="#000" stroke="#000" stroke-width="0.1" font-weight="normal" text-anchor="start" textLength="33.6" lengthAdjust="spacingAndGlyphs" xml:space="preserve">1.14035</text>
<text x="1422.6" y="270.8" font-size="9.5" fill="#000" stroke="#000" stroke-width="0.1" font-weight="normal" text-anchor="start" textLength="33.6" lengthAdjust="spacingAndGlyphs" xml:space="preserve">1.13735</text>
<text x="1422.6" y="303.8" font-size="9.5" fill="#000" stroke="#000" stroke-width="0.1" font-weight="normal" text-anchor="start" textLength="33.6" lengthAdjust="spacingAndGlyphs" xml:space="preserve">1.13430</text>
<text x="1422.6" y="336.8" font-size="9.5" fill="#000" stroke="#000" stroke-width="0.1" font-weight="normal" text-anchor="start" textLength="33.6" lengthAdjust="spacingAndGlyphs" xml:space="preserve">1.13125</text>
<text x="1422.6" y="369.8" font-size="9.5" fill="#000" stroke="#000" stroke-width="0.1" font-weight="normal" text-anchor="start" textLength="33.6" lengthAdjust="spacingAndGlyphs" xml:space="preserve">1.12820</text>
<text x="1422.6" y="402.8" font-size="9.5" fill="#000" stroke="#000" stroke-width="0.1" font-weight="normal" text-anchor="start" textLength="33.6" lengthAdjust="spacingAndGlyphs" xml:space="preserve">1.12520</text>
<text x="1422.6" y="435.8" font-size="9.5" fill="#000" stroke="#000" stroke-width="0.1" font-weight="normal" text-anchor="start" textLength="33.6" lengthAdjust="spacingAndGlyphs" xml:space="preserve">1.12215</text>
<text x="1422.6" y="468.8" font-size="9.5" fill="#000" stroke="#000" stroke-width="0.1" font-weight="normal" text-anchor="start" textLength="33.6" lengthAdjust="spacingAndGlyphs" xml:space="preserve">1.11910</text>
<text x="1422.6" y="534.8" font-size="9.5" fill="#000" stroke="#000" stroke-width="0.1" font-weight="normal" text-anchor="start" textLength="33.6" lengthAdjust="spacingAndGlyphs" xml:space="preserve">1.11305</text>
<text x="1422.6" y="567.8" font-size="9.5" fill="#000" stroke="#000" stroke-width="0.1" font-weight="normal" text-anchor="start" textLength="33.6" lengthAdjust="spacingAndGlyphs" xml:space="preserve">1.11000</text>
<rect x="1419" y="491" width="41" height="11" fill="#000" shape-rendering="crispEdges"/>
<text x="1422.6" y="499.9" font-size="9.5" fill="#FFF" font-weight="normal" text-anchor="start" textLength="33.6" lengthAdjust="spacingAndGlyphs" xml:space="preserve">1.11633</text>
<text x="1420.6" y="579.7" font-size="9.5" fill="#000" stroke="#000" stroke-width="0.1" font-weight="normal" text-anchor="start" textLength="38.8" lengthAdjust="spacingAndGlyphs" xml:space="preserve">0.003287</text>
<text x="1420.2" y="622" font-size="9.5" fill="#000" stroke="#000" stroke-width="0.1" font-weight="normal" text-anchor="start" textLength="19.0" lengthAdjust="spacingAndGlyphs" xml:space="preserve">0.00</text>
<text x="1420.8" y="668.7" font-size="9.5" fill="#000" stroke="#000" stroke-width="0.1" font-weight="normal" text-anchor="start" textLength="41.6" lengthAdjust="spacingAndGlyphs" xml:space="preserve">-0.003659</text>
<text x="1420.6" y="684.9" font-size="9.5" fill="#000" stroke="#000" stroke-width="0.1" font-weight="normal" text-anchor="start" textLength="15.8" lengthAdjust="spacingAndGlyphs" xml:space="preserve">100</text>
<text x="1419.9" y="717.8" font-size="9.5" fill="#000" stroke="#000" stroke-width="0.1" font-weight="normal" text-anchor="start" textLength="10.6" lengthAdjust="spacingAndGlyphs" xml:space="preserve">70</text>
<text x="1419.9" y="768.8" font-size="9.5" fill="#000" stroke="#000" stroke-width="0.1" font-weight="normal" text-anchor="start" textLength="10.6" lengthAdjust="spacingAndGlyphs" xml:space="preserve">30</text>
<text x="1420.7" y="800.8" font-size="9.5" fill="#000" stroke="#000" stroke-width="0.1" font-weight="normal" text-anchor="start" textLength="5.8" lengthAdjust="spacingAndGlyphs" xml:space="preserve">0</text>
<text x="5.4" y="582" font-size="9.6" fill="#000" stroke="#000" stroke-width="0.1" font-weight="normal" text-anchor="start" textLength="154.4" lengthAdjust="spacingAndGlyphs" xml:space="preserve">MACD(12,26,9) -0.001582 -0.001076</text>
<text x="5.4" y="687" font-size="9.6" fill="#000" stroke="#000" stroke-width="0.1" font-weight="normal" text-anchor="start" textLength="68.8" lengthAdjust="spacingAndGlyphs" xml:space="preserve">RSI(14) 40.7875</text>
<text x="1.2" y="816.8" font-size="9.5" fill="#000" stroke="#000" stroke-width="0.1" font-weight="normal" text-anchor="start" textLength="51.9" lengthAdjust="spacingAndGlyphs" xml:space="preserve">10 Dec 2018</text>
<text x="65.2" y="816.8" font-size="9.5" fill="#000" stroke="#000" stroke-width="0.1" font-weight="normal" text-anchor="start" textLength="51.9" lengthAdjust="spacingAndGlyphs" xml:space="preserve">19 Dec 2018</text>
<text x="129.2" y="816.8" font-size="9.5" fill="#000" stroke="#000" stroke-width="0.1" font-weight="normal" text-anchor="start" textLength="51.9" lengthAdjust="spacingAndGlyphs" xml:space="preserve">28 Dec 2018</text>
<text x="193.2" y="816.8" font-size="9.5" fill="#000" stroke="#000" stroke-width="0.1" font-weight="normal" text-anchor="start" textLength="45.3" lengthAdjust="spacingAndGlyphs" xml:space="preserve">7 Jan 2019</text>
<text x="257.2" y="816.8" font-size="9.5" fill="#000" stroke="#000" stroke-width="0.1" font-weight="normal" text-anchor="start" textLength="50.4" lengthAdjust="spacingAndGlyphs" xml:space="preserve">16 Jan 2019</text>
<text x="321.2" y="816.8" font-size="9.5" fill="#000" stroke="#000" stroke-width="0.1" font-weight="normal" text-anchor="start" textLength="50.4" lengthAdjust="spacingAndGlyphs" xml:space="preserve">25 Jan 2019</text>
<text x="385.2" y="816.8" font-size="9.5" fill="#000" stroke="#000" stroke-width="0.1" font-weight="normal" text-anchor="start" textLength="46.3" lengthAdjust="spacingAndGlyphs" xml:space="preserve">4 Feb 2019</text>
<text x="449.2" y="816.8" font-size="9.5" fill="#000" stroke="#000" stroke-width="0.1" font-weight="normal" text-anchor="start" textLength="51.4" lengthAdjust="spacingAndGlyphs" xml:space="preserve">13 Feb 2019</text>
<text x="513.2" y="816.8" font-size="9.5" fill="#000" stroke="#000" stroke-width="0.1" font-weight="normal" text-anchor="start" textLength="51.4" lengthAdjust="spacingAndGlyphs" xml:space="preserve">22 Feb 2019</text>
<text x="577.2" y="816.8" font-size="9.5" fill="#000" stroke="#000" stroke-width="0.1" font-weight="normal" text-anchor="start" textLength="46.3" lengthAdjust="spacingAndGlyphs" xml:space="preserve">4 Mar 2019</text>
<text x="641.2" y="816.8" font-size="9.5" fill="#000" stroke="#000" stroke-width="0.1" font-weight="normal" text-anchor="start" textLength="51.4" lengthAdjust="spacingAndGlyphs" xml:space="preserve">13 Mar 2019</text>
<text x="705.2" y="816.8" font-size="9.5" fill="#000" stroke="#000" stroke-width="0.1" font-weight="normal" text-anchor="start" textLength="51.4" lengthAdjust="spacingAndGlyphs" xml:space="preserve">22 Mar 2019</text>
<text x="769.2" y="816.8" font-size="9.5" fill="#000" stroke="#000" stroke-width="0.1" font-weight="normal" text-anchor="start" textLength="44.3" lengthAdjust="spacingAndGlyphs" xml:space="preserve">1 Apr 2019</text>
<text x="833.2" y="816.8" font-size="9.5" fill="#000" stroke="#000" stroke-width="0.1" font-weight="normal" text-anchor="start" textLength="49.3" lengthAdjust="spacingAndGlyphs" xml:space="preserve">10 Apr 2019</text>
<text x="897.2" y="816.8" font-size="9.5" fill="#000" stroke="#000" stroke-width="0.1" font-weight="normal" text-anchor="start" textLength="49.3" lengthAdjust="spacingAndGlyphs" xml:space="preserve">21 Apr 2019</text>
<text x="961.2" y="816.8" font-size="9.5" fill="#000" stroke="#000" stroke-width="0.1" font-weight="normal" text-anchor="start" textLength="49.3" lengthAdjust="spacingAndGlyphs" xml:space="preserve">30 Apr 2019</text>
<text x="1025.2" y="816.8" font-size="9.5" fill="#000" stroke="#000" stroke-width="0.1" font-weight="normal" text-anchor="start" textLength="47.8" lengthAdjust="spacingAndGlyphs" xml:space="preserve">9 May 2019</text>
<text x="1089.2" y="816.8" font-size="9.5" fill="#000" stroke="#000" stroke-width="0.1" font-weight="normal" text-anchor="start" textLength="52.9" lengthAdjust="spacingAndGlyphs" xml:space="preserve">19 May 2019</text>
<text x="14.2" y="842.1" font-size="13.2" fill="#000" stroke="#000" stroke-width="0.1" font-weight="normal" text-anchor="start" textLength="85.0" lengthAdjust="spacingAndGlyphs" xml:space="preserve">EURUSD-,Daily</text>
<text x="120.6" y="842.1" font-size="13.2" fill="#5F5F5F" stroke="#5F5F5F" stroke-width="0.1" font-weight="normal" text-anchor="start" textLength="87.6" lengthAdjust="spacingAndGlyphs" xml:space="preserve">AUDUSD-,Daily</text>
<text x="230.2" y="842.1" font-size="13.2" fill="#5F5F5F" stroke="#5F5F5F" stroke-width="0.1" font-weight="normal" text-anchor="start" textLength="84.8" lengthAdjust="spacingAndGlyphs" xml:space="preserve">USDCHF-,Daily</text>
<text x="337.7" y="842.1" font-size="13.2" fill="#5F5F5F" stroke="#5F5F5F" stroke-width="0.1" font-weight="normal" text-anchor="start" textLength="86.6" lengthAdjust="spacingAndGlyphs" xml:space="preserve">USDCAD-,Daily</text>
<text x="446.2" y="842.1" font-size="13.2" fill="#5F5F5F" stroke="#5F5F5F" stroke-width="0.1" font-weight="normal" text-anchor="start" textLength="89.2" lengthAdjust="spacingAndGlyphs" xml:space="preserve">USDCNH-,Daily</text>
<text x="557.2" y="842.1" font-size="13.2" fill="#5F5F5F" stroke="#5F5F5F" stroke-width="0.1" font-weight="normal" text-anchor="start" textLength="98.0" lengthAdjust="spacingAndGlyphs" xml:space="preserve">EURCHF-,Weekly</text>
<g shape-rendering="crispEdges">
<rect x="5" y="48" width="52" height="25" fill="url(#gs)"/>
<rect x="172" y="48" width="52" height="25" fill="url(#gs)"/>
<rect x="5" y="72" width="109" height="40" fill="url(#gb)"/>
<rect x="116" y="72" width="108" height="40" fill="url(#gb)"/>
<rect x="5" y="48" width="52" height="1" fill="#3636C8"/>
<rect x="172" y="48" width="52" height="1" fill="#3636C8"/>
<rect x="9" y="71" width="44" height="1" fill="#2424B2"/>
<rect x="9" y="72" width="44" height="1" fill="#9292F0"/>
<rect x="176" y="71" width="44" height="1" fill="#2424B2"/>
<rect x="176" y="72" width="44" height="1" fill="#9292F0"/>
<rect x="59" y="48" width="111" height="22" fill="#ABABAB"/>
<rect x="60" y="49" width="109" height="20" fill="#FFFFFF"/>
<rect x="60" y="49" width="21" height="20" fill="url(#gsp)"/>
<rect x="80" y="49" width="1" height="20" fill="#ABABAB"/>
<rect x="148" y="49" width="21" height="20" fill="url(#gsp)"/>
<rect x="148" y="49" width="1" height="20" fill="#ABABAB"/>
</g>
<polygon points="67.2,57.2 72.8,57.2 70,60.2" fill="#4A5CC0"/>
<polygon points="155.6,60 161.2,60 158.4,57" fill="#4A5CC0"/>
<text x="120.8" y="63.2" font-size="11.7" fill="#000" stroke="#000" stroke-width="0.1" font-weight="normal" text-anchor="start" textLength="24.8" lengthAdjust="spacingAndGlyphs" xml:space="preserve">1.00</text>
<text x="17.0" y="63.9" font-size="12.8" fill="#FFF" font-weight="normal" text-anchor="start" textLength="26.2" lengthAdjust="spacingAndGlyphs" xml:space="preserve">SELL</text>
<text x="185.2" y="63.9" font-size="12.8" fill="#FFF" font-weight="normal" text-anchor="start" textLength="24.6" lengthAdjust="spacingAndGlyphs" xml:space="preserve">BUY</text>
<text x="25.2" y="103" font-size="12.4" fill="#FFF" stroke="#FFF" stroke-width="0.25" font-weight="bold" text-anchor="start" textLength="24" lengthAdjust="spacingAndGlyphs" xml:space="preserve">1.11</text>
<text x="52.2" y="102.5" font-size="34" fill="#FFF" font-weight="normal" text-anchor="start" textLength="35.2" lengthAdjust="spacingAndGlyphs" xml:space="preserve">63</text>
<text x="92.4" y="86.9" font-size="11.8" fill="#FFF" stroke="#FFF" stroke-width="0.25" font-weight="bold" text-anchor="start" textLength="7.0" lengthAdjust="spacingAndGlyphs" xml:space="preserve">3</text>
<text x="135.2" y="103" font-size="12.4" fill="#FFF" stroke="#FFF" stroke-width="0.25" font-weight="bold" text-anchor="start" textLength="24" lengthAdjust="spacingAndGlyphs" xml:space="preserve">1.11</text>
<text x="162.9" y="102.5" font-size="34" fill="#FFF" font-weight="normal" text-anchor="start" textLength="35.2" lengthAdjust="spacingAndGlyphs" xml:space="preserve">65</text>
<text x="203.2" y="86.9" font-size="11.8" fill="#FFF" stroke="#FFF" stroke-width="0.25" font-weight="bold" text-anchor="start" textLength="7.0" lengthAdjust="spacingAndGlyphs" xml:space="preserve">1</text>
</svg>
</body></html>
